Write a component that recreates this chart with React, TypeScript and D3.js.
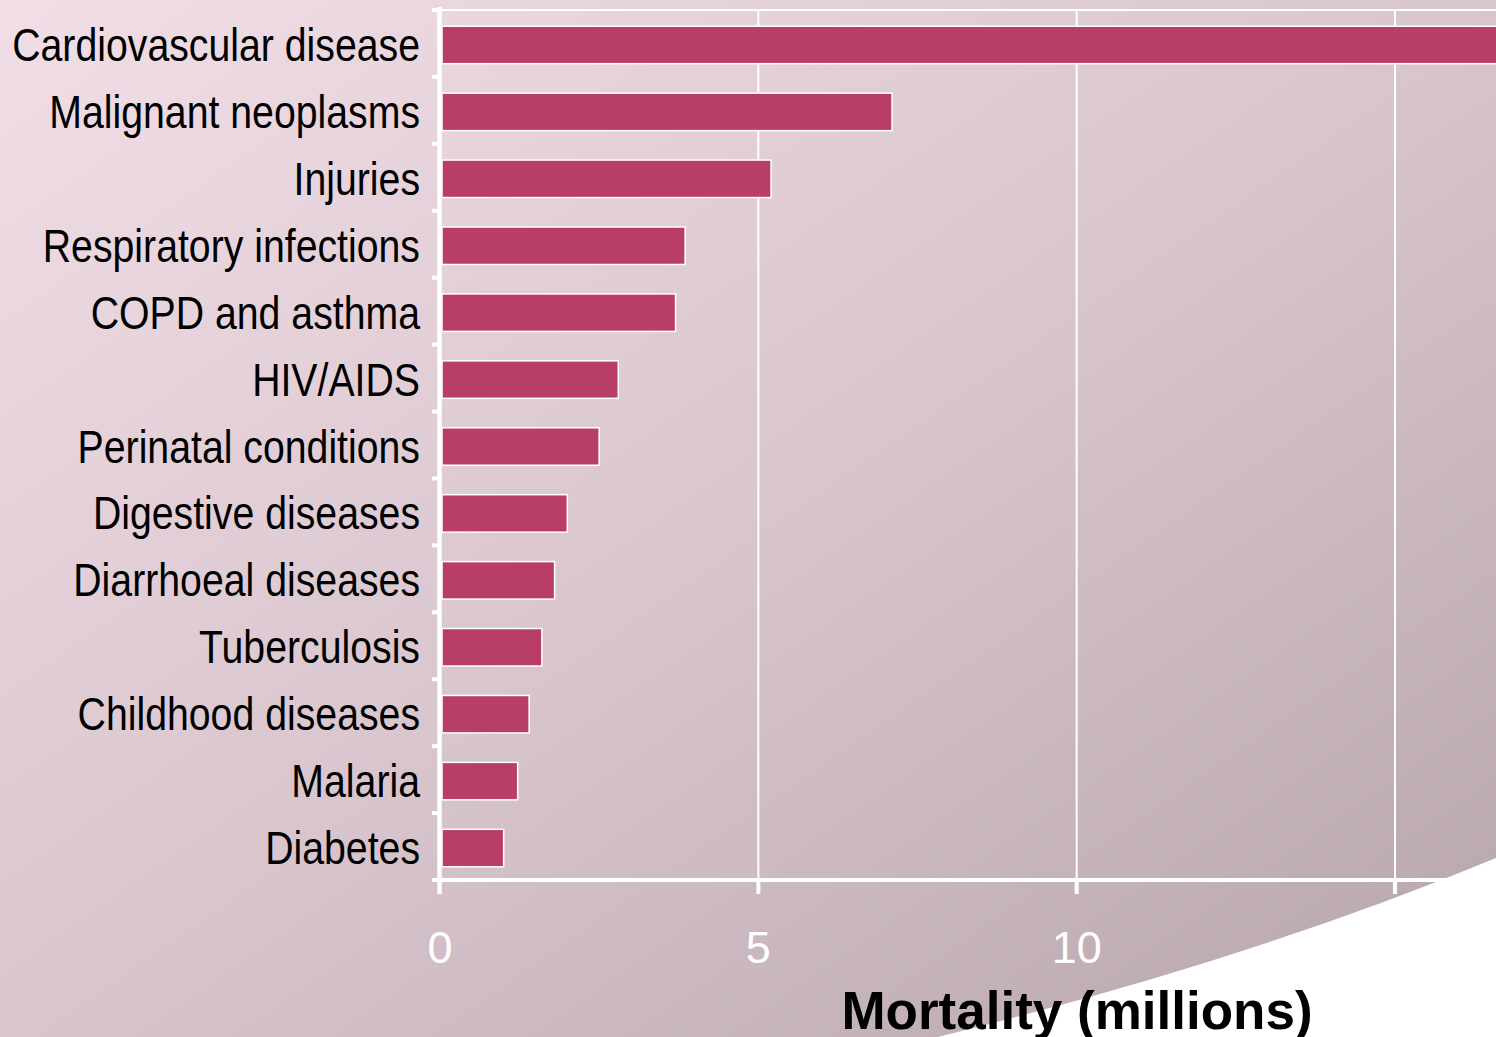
import React from "react";
import * as d3 from "d3";

// Global mortality by cause (millions of deaths per year)
const causes: string[] = [
  "Cardiovascular disease",
  "Malignant neoplasms",
  "Injuries",
  "Respiratory infections",
  "COPD and asthma",
  "HIV/AIDS",
  "Perinatal conditions",
  "Digestive diseases",
  "Diarrhoeal diseases",
  "Tuberculosis",
  "Childhood diseases",
  "Malaria",
  "Diabetes",
];
const deaths: number[] = [16.7, 7.1, 5.2, 3.85, 3.7, 2.8, 2.5, 2.0, 1.8, 1.6, 1.4, 1.22, 1.0];
const xTicks: number[] = [0, 5, 10, 15];
const axisTitle = "Mortality (millions)";

const W = 1496;
const H = 1037;
const left = 440;
const top = 10;
const bottom = 880;

export default function App() {
  const x = d3.scaleLinear().domain([0, 15]).range([left, 1395]);
  const y = d3.scaleBand<string>().domain(causes).range([top + 1.5, bottom + 1.5]).paddingInner(0.44).paddingOuter(0.22);
  const bandEdges = d3.range(causes.length + 1).map((i) => top + (i * (bottom - top)) / causes.length);

  const sansFont = "'Liberation Sans', Arial, Helvetica, sans-serif";

  // curved white sweep in the lower right corner
  const sweep = d3.path();
  sweep.moveTo(938, H);
  sweep.quadraticCurveTo(1250, 960, W, 858);
  sweep.lineTo(W, H);
  sweep.closePath();

  return (
    <svg
      width={W}
      height={H}
      viewBox={`0 0 ${W} ${H}`}
      style={{ position: "absolute", left: 0, top: 0, display: "block" }}
    >
      <defs>
        <linearGradient id="bg" x1="0" y1="0" x2="1" y2="1">
          <stop offset="0" stopColor="#f1dee7" />
          <stop offset="0.5" stopColor="#d8c5ce" />
          <stop offset="1" stopColor="#b6a4ab" />
        </linearGradient>
      </defs>
      <rect x={0} y={0} width={W} height={H} fill="url(#bg)" />

      {/* grid */}
      <line x1={left} x2={W} y1={top} y2={top} stroke="#fff" strokeWidth={2} />
      {xTicks.slice(1).map((t) => (
        <line key={"g" + t} x1={x(t)} x2={x(t)} y1={top} y2={bottom} stroke="#fff" strokeWidth={2} />
      ))}

      {/* bars */}
      {causes.map((c, i) => (
        <rect
          key={c}
          x={x(0) + 2}
          y={y(c)!}
          width={x(deaths[i]) - x(0) - 2}
          height={y.bandwidth()}
          fill="#b93d69"
          stroke="#fff"
          strokeWidth={1.5}
        />
      ))}

      {/* white sweep */}
      <path d={sweep.toString()} fill="#ffffff" />

      {/* axes */}
      <line x1={439.5} x2={439.5} y1={7} y2={894} stroke="#fff" strokeWidth={4.5} />
      {bandEdges.map((e, i) => (
        <line key={"yt" + i} x1={432} x2={440} y1={e} y2={e} stroke="#fff" strokeWidth={4} />
      ))}
      <line x1={432} x2={W} y1={bottom} y2={bottom} stroke="#fff" strokeWidth={4} />
      {xTicks.slice(1).map((t) => (
        <line key={"xt" + t} x1={x(t)} x2={x(t)} y1={bottom} y2={894} stroke="#fff" strokeWidth={4} />
      ))}

      {/* category labels, set in a condensed face */}
      {causes.map((c) => (
        <text
          key={"l" + c}
          transform={`translate(420, ${y(c)! + y.bandwidth() / 2 + 16}) scale(0.835, 1)`}
          x={0}
          y={0}
          textAnchor="end"
          fontFamily={sansFont}
          fontSize={47}
          fill="#000"
        >
          {c}
        </text>
      ))}

      {/* tick labels */}
      {xTicks.slice(0, 3).map((t) => (
        <text
          key={"tl" + t}
          x={x(t)}
          y={963}
          textAnchor="middle"
          fontFamily={sansFont}
          fontSize={45}
          fill="#fff"
        >
          {t}
        </text>
      ))}

      <text
        x={1077}
        y={1029}
        textAnchor="middle"
        fontFamily={sansFont}
        fontWeight="bold"
        fontSize={53}
        fill="#000"
      >
        {axisTitle}
      </text>
    </svg>
  );
}
